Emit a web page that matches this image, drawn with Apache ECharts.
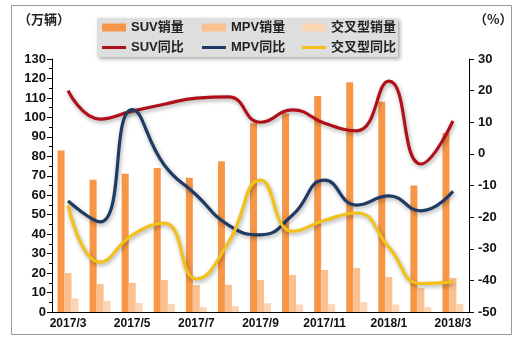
<!DOCTYPE html>
<html><head><meta charset="utf-8">
<script src="https://cdn.jsdelivr.net/npm/echarts@6/dist/echarts.min.js"></script>
<style>html,body{margin:0;padding:0;background:#fff;}#c{width:522px;height:344px;}</style>
</head><body><div id="c"></div>
<script>
var categories = ['2017/3','2017/4','2017/5','2017/6','2017/7','2017/8','2017/9','2017/10','2017/11','2017/12','2018/1','2018/2','2018/3'];
var suvSales = [83, 68, 71, 74, 69, 77.5, 97, 102, 111, 118, 108, 65, 92];
var mpvSales = [20, 14.4, 15, 16.4, 13.8, 14, 16.5, 19, 21.6, 22.6, 18, 12.3, 17.5];
var crossSales = [7, 5.6, 4.6, 4.2, 2.6, 3, 4.5, 3.8, 4, 5, 3.8, 2.6, 4.2];
var suvYoY = [20, 11, 13.5, 15.7, 17.6, 18, 10, 13.9, 9.7, 7.3, 23, -3.2, 10.4];
var mpvYoY = [-14.9, -21.5, 14, -3.5, -13, -22.5, -25.6, -19.3, -8.3, -16.2, -13.3, -18, -11.8];
var crossYoY = [-16.2, -34.2, -25.7, -21.9, -39.5, -28, -8.3, -24.5, -21, -18.7, -29.5, -41, -40.5];
var leftTicks = {min: 0, max: 130, interval: 10};
var rightTicks = {min: -50, max: 30, interval: 10};
var seriesNames = ['SUV销量','MPV销量','交叉型销量','SUV同比','MPV同比','交叉型同比'];

var FONT = '"Liberation Sans", Arial, "Noto Sans CJK SC", sans-serif';
var C = {suvBar:'#F79646', mpvBar:'#FAC090', crossBar:'#FCD5B4', suvLine:'#B0101A', mpvLine:'#1F3B64', crossLine:'#F2C11A'};
var chart = echarts.init(document.getElementById('c'));
var lineShadow = {shadowColor:'rgba(0,0,0,0.35)', shadowBlur:4, shadowOffsetX:1, shadowOffsetY:2};
function lineSeries(name, data, color){
  return {name:name, type:'line', yAxisIndex:1, data:data, smooth:0.5, symbol:'none',
    lineStyle:Object.assign({color:color, width:3.2}, lineShadow), itemStyle:{color:color}, z:5};
}
var legendText = {fontFamily:FONT, fontWeight:'bold', fontSize:13, color:'#222'};
var legends = seriesNames.map(function(n, i){
  var row = Math.floor(i / 3), col = i % 3;
  return {data:[n], left:102 + col*100, top:row ? 41 : 21, itemWidth:24,
    itemHeight: row ? 3 : 8, icon:'rect', textStyle:legendText, padding:0, itemGap:0};
});
chart.setOption({
  animation:false,
  textStyle:{fontFamily:FONT},
  graphic:[
    {type:'rect', shape:{x:11.5,y:5.5,width:500,height:329}, style:{fill:'none', stroke:'#9a9a9a', lineWidth:1}, z:-10},
    {type:'rect', shape:{x:97,y:18,width:301,height:39}, style:{fill:'#dedede', shadowColor:'rgba(0,0,0,0.35)', shadowBlur:4, shadowOffsetX:2, shadowOffsetY:2}, z:-5},
    {type:'text', left:18, top:13, style:{text:'（万辆）', font:'bold 13px "Noto Sans CJK SC", sans-serif', fill:'#222'}},
    {type:'text', left:474, top:13, style:{text:'（%）', font:'bold 13px "Noto Sans CJK SC", sans-serif', fill:'#222'}}
  ],
  legend:legends,
  grid:{left:52, right:53, top:59, bottom:32, containLabel:false},
  xAxis:{type:'category', data:categories, boundaryGap:true,
    axisLine:{lineStyle:{color:'#000', width:1}},
    axisTick:{interval:1, length:4, lineStyle:{color:'#000'}},
    axisLabel:{interval:1, color:'#111', fontWeight:'bold', fontSize:12, fontFamily:FONT, margin:6}},
  yAxis:[
    {type:'value', min:leftTicks.min, max:leftTicks.max, interval:leftTicks.interval,
      axisLine:{show:true, lineStyle:{color:'#000'}}, axisTick:{show:true, length:5, lineStyle:{color:'#000'}},
      minorTick:{show:true, splitNumber:2, length:3, lineStyle:{color:'#000'}},
      splitLine:{show:false},
      axisLabel:{color:'#111', fontWeight:'bold', fontSize:13, fontFamily:FONT, margin:6}},
    {type:'value', min:rightTicks.min, max:rightTicks.max, interval:rightTicks.interval, position:'right',
      axisLine:{show:true, lineStyle:{color:'#000'}}, axisTick:{show:true, length:5, lineStyle:{color:'#000'}},
      splitLine:{show:false},
      axisLabel:{color:'#111', fontWeight:'bold', fontSize:13, fontFamily:FONT, margin:9}}
  ],
  series:[
    {name:seriesNames[0], type:'bar', data:suvSales, barWidth:7, barGap:'0%', itemStyle:{color:C.suvBar}},
    {name:seriesNames[1], type:'bar', data:mpvSales, barWidth:7, barGap:'0%', itemStyle:{color:C.mpvBar}},
    {name:seriesNames[2], type:'bar', data:crossSales, barWidth:7, barGap:'0%', itemStyle:{color:C.crossBar}},
    lineSeries(seriesNames[3], suvYoY, C.suvLine),
    lineSeries(seriesNames[4], mpvYoY, C.mpvLine),
    lineSeries(seriesNames[5], crossYoY, C.crossLine)
  ]
});
</script></body></html>
